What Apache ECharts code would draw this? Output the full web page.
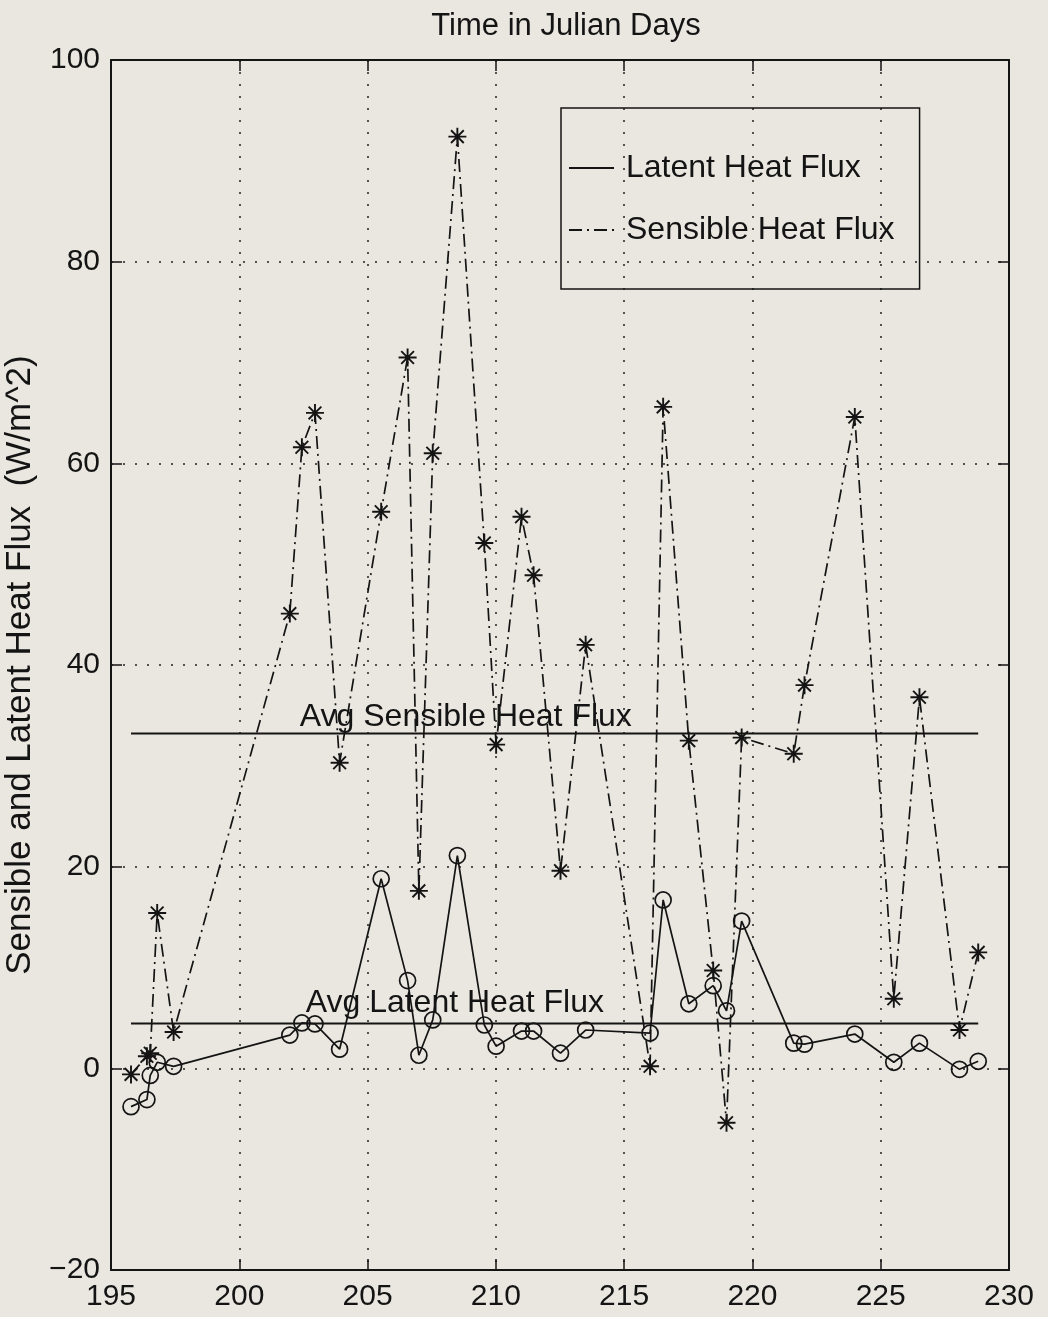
<!DOCTYPE html>
<html>
<head>
<meta charset="utf-8">
<script src="https://cdn.jsdelivr.net/npm/echarts@6/dist/echarts.min.js"></script>
<style>
html,body{margin:0;padding:0;background:#e9e7e0;}
#chart{width:1048px;height:1317px;}
</style>
</head>
<body>
<div id="chart"></div>
<script>
// ---- data ----
var julianDays = [195.78,196.40,196.53,196.80,197.44,201.97,202.44,202.95,203.91,205.53,206.56,207.00,207.54,208.50,209.55,210.01,211.00,211.47,212.52,213.50,216.01,216.52,217.52,218.47,218.99,219.58,221.61,222.03,223.99,225.51,226.51,228.07,228.80];
var latentFlux = [-3.8,-3.1,-0.7,0.6,0.2,3.3,4.5,4.4,1.9,18.8,8.7,1.3,4.8,21.1,4.3,2.2,3.7,3.7,1.5,3.8,3.5,16.7,6.4,8.2,5.7,14.6,2.5,2.4,3.4,0.6,2.5,-0.1,0.7];
var sensibleFlux = [-0.6,1.2,1.5,15.4,3.6,45.1,61.6,65.0,30.3,55.2,70.5,17.6,61.0,92.4,52.1,32.1,54.7,48.9,19.6,42.0,0.2,65.6,32.5,9.7,-5.4,32.8,31.2,38.0,64.6,6.9,36.8,3.8,11.5];
var avgSensible = 33.2;
var avgLatent = 4.45;
var avgLabels = ['Avg Sensible Heat Flux', 'Avg Latent Heat Flux'];
var avgLabelX = [208.83, 208.4];
var xTicks = [195,200,205,210,215,220,225,230];
var yTicks = [-20,0,20,40,60,80,100];
var seriesNames = ['Latent Heat Flux', 'Sensible Heat Flux'];
var titleText = 'Time in Julian Days';
var yAxisTitle = 'Sensible and Latent Heat Flux  (W/m^2)';

// ---- build ----
function pairs(xs, ys){ return xs.map(function(x,i){ return [x, ys[i]]; }); }
var FONT = 'Liberation Sans, Arial, Helvetica, sans-serif';
var INK = '#141414';
var tFirst = julianDays[0], tLast = julianDays[julianDays.length-1];
var STAR = 'path://M0,-10L0,10M-10,0L10,0M-7.07,-7.07L7.07,7.07M-7.07,7.07L7.07,-7.07';

var chart = echarts.init(document.getElementById('chart'), null, {renderer:'canvas'});
var option = {
  backgroundColor: '#e9e7e0',
  animation: false,
  title: {
    text: titleText, left: 561, top: 6, textAlign: 'center',
    textStyle: {fontFamily: FONT, fontSize: 31, fontWeight: 'normal', color: INK}
  },
  legend: {
    orient: 'vertical', left: 561, top: 108,
    padding: [44, 25, 43, 7],
    itemWidth: 45, itemHeight: 30, itemGap: 30,
    borderColor: INK, borderWidth: 1.5,
    backgroundColor: 'rgba(0,0,0,0)',
    itemStyle: {opacity: 0},
    textStyle: {fontFamily: FONT, fontSize: 32, color: INK, padding: [0,0,0,7]},
    data: seriesNames
  },
  grid: {left: 111, right: 39, top: 60, bottom: 47, outerBoundsMode: 'none', containLabel: false},
  xAxis: [{
    type: 'value', min: xTicks[0], max: xTicks[xTicks.length-1], interval: 5,
    axisLine: {show: true, onZero: false, lineStyle: {color: INK, width: 2}},
    axisTick: {show: true, inside: true, length: 11, lineStyle: {color: INK, width: 1.5}},
    axisLabel: {fontFamily: FONT, fontSize: 30, color: INK, margin: 12},
    splitLine: {show: true, lineStyle: {color: '#222', width: 1.5, type: [2, 10]}}
  },{
    type: 'value', position: 'top', min: xTicks[0], max: xTicks[xTicks.length-1], interval: 5,
    axisLine: {show: true, onZero: false, lineStyle: {color: INK, width: 2}},
    axisTick: {show: true, inside: true, length: 11, lineStyle: {color: INK, width: 1.5}},
    axisLabel: {show: false}, splitLine: {show: false}
  }],
  yAxis: [{
    type: 'value', min: yTicks[0], max: yTicks[yTicks.length-1], interval: 20,
    name: yAxisTitle, nameLocation: 'middle', nameGap: 71,
    nameTextStyle: {fontFamily: FONT, fontSize: 35, color: INK},
    axisLine: {show: true, onZero: false, lineStyle: {color: INK, width: 2}},
    axisTick: {show: true, inside: true, length: 11, lineStyle: {color: INK, width: 1.5}},
    axisLabel: {fontFamily: FONT, fontSize: 30, color: INK, margin: 11,
      formatter: function(v){ return v < 0 ? '\u2212' + Math.abs(v) : String(v); }},
    splitLine: {show: true, lineStyle: {color: '#222', width: 1.5, type: [2, 10]}}
  },{
    type: 'value', position: 'right', min: yTicks[0], max: yTicks[yTicks.length-1], interval: 20,
    axisLine: {show: true, onZero: false, lineStyle: {color: INK, width: 2}},
    axisTick: {show: true, inside: true, length: 11, lineStyle: {color: INK, width: 1.5}},
    axisLabel: {show: false}, splitLine: {show: false}
  }],
  series: [
    {
      name: seriesNames[0], type: 'line', data: pairs(julianDays, latentFlux),
      symbol: 'circle', symbolSize: 16, z: 3,
      lineStyle: {color: INK, width: 1.7, type: 'solid'},
      itemStyle: {color: 'rgba(0,0,0,0)', borderColor: INK, borderWidth: 1.7}
    },
    {
      name: seriesNames[1], type: 'line', data: pairs(julianDays, sensibleFlux),
      symbol: STAR, symbolSize: 18, z: 3,
      lineStyle: {color: INK, width: 1.7, type: [13, 5, 2, 5]},
      itemStyle: {color: 'rgba(0,0,0,0)', borderColor: INK, borderWidth: 1.9}
    },
    {
      name: 'avgS', type: 'line', data: [[tFirst, avgSensible],[tLast, avgSensible]],
      symbol: 'none', silent: true, lineStyle: {color: INK, width: 2}
    },
    {
      name: 'avgL', type: 'line', data: [[tFirst, avgLatent],[tLast, avgLatent]],
      symbol: 'none', silent: true, lineStyle: {color: INK, width: 2}
    },
    {
      name: 'avgText', type: 'scatter', symbolSize: 0, silent: true,
      itemStyle: {opacity: 1},
      data: [
        {name: avgLabels[0], value: [avgLabelX[0], avgSensible], label: {distance: 0}},
        {name: avgLabels[1], value: [avgLabelX[1], avgLatent], label: {distance: 4}}
      ],
      label: {show: true, position: 'top', formatter: '{b}', opacity: 1,
        fontFamily: FONT, fontSize: 32, color: INK, lineHeight: 32}
    }
  ]
};
chart.setOption(option);
</script>
</body>
</html>
